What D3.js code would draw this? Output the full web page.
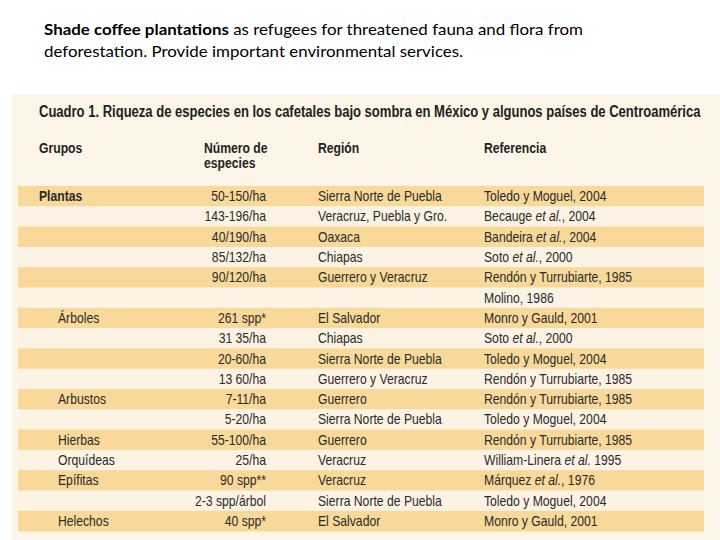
<!DOCTYPE html>
<html lang="es">
<head>
<meta charset="UTF-8">
<title>Cuadro 1</title>
<style>
  body, html { margin: 0; padding: 0; background: #ffffff; }
  svg { display: block; }
</style>
</head>
<body>
<svg id="svg" width="720" height="540"></svg>
<script src="https://d3js.org/d3.v7.min.js"></script>
<script>
// table data
const grupos = ["Plantas", "", "", "", "", "", "Árboles", "", "", "", "Arbustos", "", "Hierbas", "Orquídeas", "Epífitas", "", "Helechos"];
const numeros = ["50-150/ha", "143-196/ha", "40/190/ha", "85/132/ha", "90/120/ha", "", "261 spp*", "31 35/ha", "20-60/ha", "13 60/ha", "7-11/ha", "5-20/ha", "55-100/ha", "25/ha", "90 spp**", "2-3 spp/árbol", "40 spp*"];
const regiones = ["Sierra Norte de Puebla", "Veracruz, Puebla y Gro.", "Oaxaca", "Chiapas", "Guerrero y Veracruz", "", "El Salvador", "Chiapas", "Sierra Norte de Puebla", "Guerrero y Veracruz", "Guerrero", "Sierra Norte de Puebla", "Guerrero", "Veracruz", "Veracruz", "Sierra Norte de Puebla", "El Salvador"];
const referencias = ["Toledo y Moguel, 2004", "Becauge et al., 2004", "Bandeira et al., 2004", "Soto et al., 2000", "Rendón y Turrubiarte, 1985", "Molino, 1986", "Monro y Gauld, 2001", "Soto et al., 2000", "Toledo y Moguel, 2004", "Rendón y Turrubiarte, 1985", "Rendón y Turrubiarte, 1985", "Toledo y Moguel, 2004", "Rendón y Turrubiarte, 1985", "William-Linera et al. 1995", "Márquez et al., 1976", "Toledo y Moguel, 2004", "Monro y Gauld, 2001"];
const columnas = ["Grupos", "Número de|especies", "Región", "Referencia"];

const svg = d3.select("#svg");
const font = "'Liberation Sans', Arial, sans-serif";
const ink = "#2a2a2a";
const squeeze = 0.84; // no narrow face installed: scale glyphs horizontally

// caption above the table
const cap = svg.append("g")
  .style("font-family", "Lato, 'Open Sans', sans-serif")
  .style("font-size", "16px")
  .attr("fill", "#000");
const l1 = cap.append("text").attr("x", 44).attr("y", 35)
  .attr("textLength", 539).attr("lengthAdjust", "spacingAndGlyphs");
l1.append("tspan").attr("font-weight", "bold").text("Shade coffee plantations");
l1.append("tspan").text(" as refugees for threatened fauna and flora from");
cap.append("text").attr("x", 44).attr("y", 57)
  .attr("textLength", 419).attr("lengthAdjust", "spacingAndGlyphs")
  .text("deforestation. Provide important environmental services.");

// panel
svg.append("rect").attr("x", 12).attr("y", 94).attr("width", 708).attr("height", 446).attr("fill", "#fdf5e8");

const title = svg.append("text")
  .style("font-family", font).style("font-size", "16px").attr("font-weight", "bold")
  .attr("fill", "#222")
  .text("Cuadro 1. Riqueza de especies en los cafetales bajo sombra en México y algunos países de Centroamérica");
const tw = title.node().getComputedTextLength();
title.attr("transform", `translate(39,117) scale(${662 / tw},1)`);

const colX = d3.scaleOrdinal().domain(columnas).range([39, 204, 318, 484]);

const hdr = svg.append("g")
  .style("font-family", font).style("font-size", "14.5px").attr("font-weight", "bold")
  .attr("fill", "#222");
columnas.forEach(c => {
  c.split("|").forEach((s, i) => {
    hdr.append("text")
      .attr("transform", `translate(${colX(c)},${153 + i * 15}) scale(${squeeze},1)`)
      .text(s);
  });
});

const rows = d3.range(grupos.length);
const y = d3.scaleBand().domain(rows).range([186, 186 + 20.3 * rows.length]).padding(0);

svg.append("g").selectAll("rect")
  .data(rows)
  .join("rect")
  .attr("x", 18)
  .attr("y", d => y(d))
  .attr("width", 686)
  .attr("height", y.bandwidth() + 0.3)
  .attr("fill", d => d % 2 === 0 ? "#f8d999" : "#fdf3e4");

const body = svg.append("g")
  .style("font-family", font)
  .style("font-size", "14.5px")
  .attr("fill", ink);

const baseY = d => y(d) + y.bandwidth() / 2 + 5;
const place = x => d => `translate(${typeof x === "function" ? x(d) : x},${baseY(d)}) scale(${squeeze},1)`;

body.selectAll("text.grupo")
  .data(rows.filter(d => grupos[d]))
  .join("text")
  .attr("class", "grupo")
  .attr("transform", place(d => d === 0 ? 39 : 58))
  .attr("font-weight", d => d === 0 ? "bold" : null)
  .text(d => grupos[d]);

body.selectAll("text.num")
  .data(rows.filter(d => numeros[d]))
  .join("text")
  .attr("class", "num")
  .attr("transform", place(266))
  .attr("text-anchor", "end")
  .text(d => numeros[d]);

body.selectAll("text.reg")
  .data(rows.filter(d => regiones[d]))
  .join("text")
  .attr("class", "reg")
  .attr("transform", place(318))
  .text(d => regiones[d]);

body.selectAll("text.ref")
  .data(rows)
  .join("text")
  .attr("class", "ref")
  .attr("transform", place(484))
  .each(function(d) {
    const parts = referencias[d].split("et al.");
    const t = d3.select(this);
    parts.forEach((p, i) => {
      if (i > 0) t.append("tspan").attr("font-style", "italic").text("et al.");
      if (p) t.append("tspan").text(p);
    });
  });
</script>
</body>
</html>
